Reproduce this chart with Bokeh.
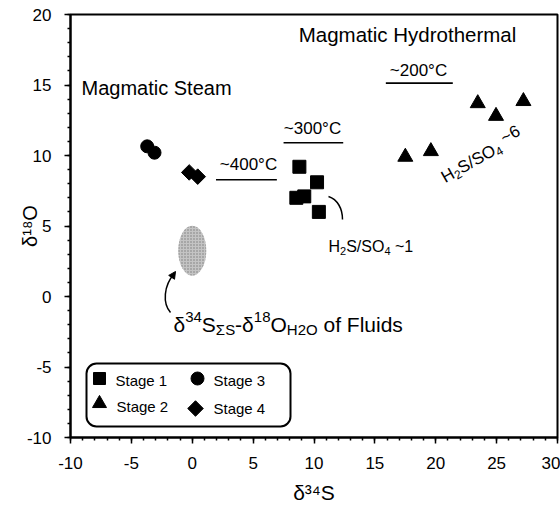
import math
import numpy as np
from bokeh.plotting import figure
from bokeh.models import (Label, BoxAnnotation, Arrow, NormalHead,
                          SingleIntervalTicker, ColumnDataSource,
                          CustomJSTickFormatter)
from bokeh.embed import file_html
from bokeh.resources import INLINE

# ---- isotope data (per mil) by paragenetic stage ----
stage1_d34s = [8.8, 10.25, 8.55, 9.2, 10.4]
stage1_d18o = [9.2, 8.1, 7.0, 7.1, 6.0]

stage2_d34s = [17.5, 19.6, 23.45, 24.95, 27.2]
stage2_d18o = [9.9, 10.3, 13.7, 12.8, 13.85]

stage3_d34s = [-3.7, -3.1]
stage3_d18o = [10.65, 10.2]

stage4_d34s = [-0.25, 0.45]
stage4_d18o = [8.8, 8.5]

# estimated fluid composition field (centre and extent)
fluid_d34s, fluid_d18o = 0.0, 3.25
fluid_w, fluid_h = 2.3, 3.55

# temperature bars: label, x-start, x-end, y
temp_labels = ["~400\u00b0C", "~300\u00b0C", "~200\u00b0C"]
temp_x0 = [1.95, 7.5, 15.9]
temp_x1 = [6.95, 12.4, 21.4]
temp_y = [8.28, 10.9, 15.13]

FONT = "Liberation Sans"
W, H = 560, 507
LEFT, RIGHT, TOP, BOTTOM = 70, 3, 14, 70
X0, X1, Y0, Y1 = -10, 30, -10, 20
FW = W - LEFT - RIGHT
FH = H - TOP - BOTTOM


def dx(px):
    """screen x (pixels from canvas left) -> data x"""
    return (px - LEFT) / FW * (X1 - X0) + X0


def dy(py):
    """screen y (pixels from canvas top) -> data y"""
    return Y1 - (py - TOP) / FH * (Y1 - Y0)


# Arial / Liberation Sans advance widths (em/1000)
WID = {' ': 278, '-': 333, '/': 278, '~': 584, '\u00b0': 400, 'C': 722,
       'F': 611, 'H': 722, 'O': 778, 'S': 667, 'a': 556, 'd': 556, 'e': 556,
       'f': 278, 'i': 222, 'l': 222, 'o': 556, 's': 500, 'u': 556,
       '\u03b4': 556, '\u03a3': 617}


def text_width(s, size):
    return sum(WID.get(c, 556) for c in s) / 1000.0 * size


p = figure(width=W, height=H, x_range=(X0, X1), y_range=(Y0, Y1),
           output_backend="svg", toolbar_location=None,
           min_border_left=LEFT, min_border_right=RIGHT,
           min_border_top=TOP, min_border_bottom=BOTTOM)
p.xgrid.visible = False
p.ygrid.visible = False
p.outline_line_color = "black"
p.outline_line_width = 2
p.outline_line_alpha = 1
p.background_fill_color = "white"
p.border_fill_color = "white"

for ax in (p.xaxis[0], p.yaxis[0]):
    ax.ticker = SingleIntervalTicker(interval=5, num_minor_ticks=5)
    ax.formatter = CustomJSTickFormatter(code="return tick.toFixed(0);")
    ax.axis_line_width = 2
    ax.axis_line_color = "black"
    ax.major_tick_in = 0
    ax.major_tick_out = 6
    ax.minor_tick_in = 0
    ax.minor_tick_out = 3
    ax.major_tick_line_width = 1.5
    ax.minor_tick_line_width = 1.5
    ax.major_label_text_font = FONT
    ax.major_label_text_font_size = "17px"
    ax.major_label_text_color = "black"
    ax.axis_label_text_font = FONT
    ax.axis_label_text_font_style = "normal"
    ax.axis_label_text_color = "black"

p.xaxis.major_label_standoff = 13
p.yaxis.major_label_standoff = 13
p.xaxis.axis_label = "\u03b4\u00b3\u2074S"
p.xaxis.axis_label_text_font_size = "21px"
p.xaxis.axis_label_standoff = 9
p.yaxis.axis_label = "\u03b4\u00b9\u2078O"
p.yaxis.axis_label_text_font_size = "20px"
p.yaxis.axis_label_standoff = -17

# ---- fluid composition field ----
p.ellipse(x=[fluid_d34s], y=[fluid_d18o], width=[fluid_w], height=[fluid_h],
          fill_color="#c4c4c4", line_color=None,
          hatch_pattern="dot", hatch_color="#7a7a7a", hatch_scale=3,
          hatch_weight=1)

# ---- temperature bars ----
p.segment(x0=temp_x0, y0=temp_y, x1=temp_x1, y1=temp_y,
          line_color="black", line_width=1.6)

# ---- sample points ----
p.scatter(stage1_d34s, stage1_d18o, marker="square", size=13, color="black")
p.scatter(stage2_d34s, stage2_d18o, marker="triangle", size=15, color="black")
p.scatter(stage3_d34s, stage3_d18o, marker="circle", size=13, color="black")
p.scatter(stage4_d34s, stage4_d18o, marker="square", angle=math.pi / 4,
          size=11, color="black")


def runs(px, py, parts, angle=0.0):
    """Place text runs along a baseline starting at screen (px, py).
    parts: list of (text, size, rise) with rise in pixels."""
    a = math.radians(angle)
    ux, uy = math.cos(a), -math.sin(a)
    nx, ny = -math.sin(a), -math.cos(a)
    along = 0.0
    for txt, size, rise in parts:
        lead = len(txt) - len(txt.lstrip(" "))
        along += text_width(" " * lead, size)
        body = txt.strip(" ")
        sx = px + along * ux + rise * nx
        sy = py + along * uy + rise * ny
        p.add_layout(Label(x=dx(sx), y=dy(sy), text=body, angle=a,
                           text_font=FONT, text_font_size=f"{size}px",
                           text_baseline="alphabetic", text_align="left",
                           text_color="black"))
        along += text_width(txt.lstrip(" "), size)


def label(px, py, txt, size, align="left", baseline="middle"):
    p.add_layout(Label(x=dx(px), y=dy(py), text=txt, text_font=FONT,
                       text_font_size=f"{size}px", text_align=align,
                       text_baseline=baseline, text_color="black"))


# ---- field names ----
label(407, 34, "Magmatic Hydrothermal", 20.5, align="center")
label(81, 87, "Magmatic Steam", 20)

# ---- temperature labels ----
label_pos = [(248, 164), (312, 128), (418, 70)]
for (lx, ly), t in zip(label_pos, temp_labels):
    label(lx, ly, t, 17, align="center")

# ---- sulfide/sulfate ratios ----
runs(328, 246, [("H", 16, 0), ("2", 11, -4), ("S/SO", 16, 0),
                ("4", 11, -4), (" ~1", 16, 0)])
runs(442, 178, [("H", 17, 0), ("2", 12, -4), ("S/SO", 17, 0),
                ("4", 12, -4), (" ~6", 17, 5)], angle=29.5)

# ---- fluid label ----
F, f = 21, 15
runs(173, 324, [("\u03b4", F, 0), ("34", f, 8), ("S", F, 0),
                ("\u03a3S", f, -5), ("-\u03b4", F, 0), ("18", f, 8),
                ("O", F, 0), ("H2O", f, -5), (" of Fluids", F, 0)])

# curved leaders
p.bezier(x0=[dx(328)], y0=[dy(196)], x1=[dx(342)], y1=[dy(219)],
         cx0=[dx(337)], cy0=[dy(199)], cx1=[dx(342)], cy1=[dy(208)],
         line_color="black", line_width=1.5)
p.bezier(x0=[dx(170)], y0=[dy(312)], x1=[dx(174)], y1=[dy(273)],
         cx0=[dx(162)], cy0=[dy(303)], cx1=[dx(163)], cy1=[dy(285)],
         line_color="black", line_width=1.5)
p.add_layout(Arrow(end=NormalHead(size=7, fill_color="black",
                                  line_color="black"),
                   x_start=dx(171), y_start=dy(277), x_end=dx(175),
                   y_end=dy(271), line_width=1.5, line_color="black"))

# ---- key ----
p.add_layout(BoxAnnotation(left=dx(86), right=dx(290), top=dy(363),
                           bottom=dy(426), border_radius=10,
                           fill_color="white", fill_alpha=1,
                           line_color="black", line_alpha=1, line_width=2,
                           level="underlay"))
key_src = ColumnDataSource(dict(
    x=[dx(99), dx(99), dx(197), dx(195)],
    y=[dy(378), dy(403), dy(378), dy(408)],
    marker=["square", "triangle", "circle", "square"],
    angle=[0, 0, 0, math.pi / 4],
    size=[12, 14, 13, 11]))
p.scatter(x="x", y="y", marker="marker", angle="angle", size="size",
          color="black", source=key_src)
label(115, 380, "Stage 1", 15)
label(116, 406, "Stage 2", 15)
label(213, 380, "Stage 3", 15)
label(213, 408, "Stage 4", 15)

open("out.html", "w").write(file_html(p, INLINE))
